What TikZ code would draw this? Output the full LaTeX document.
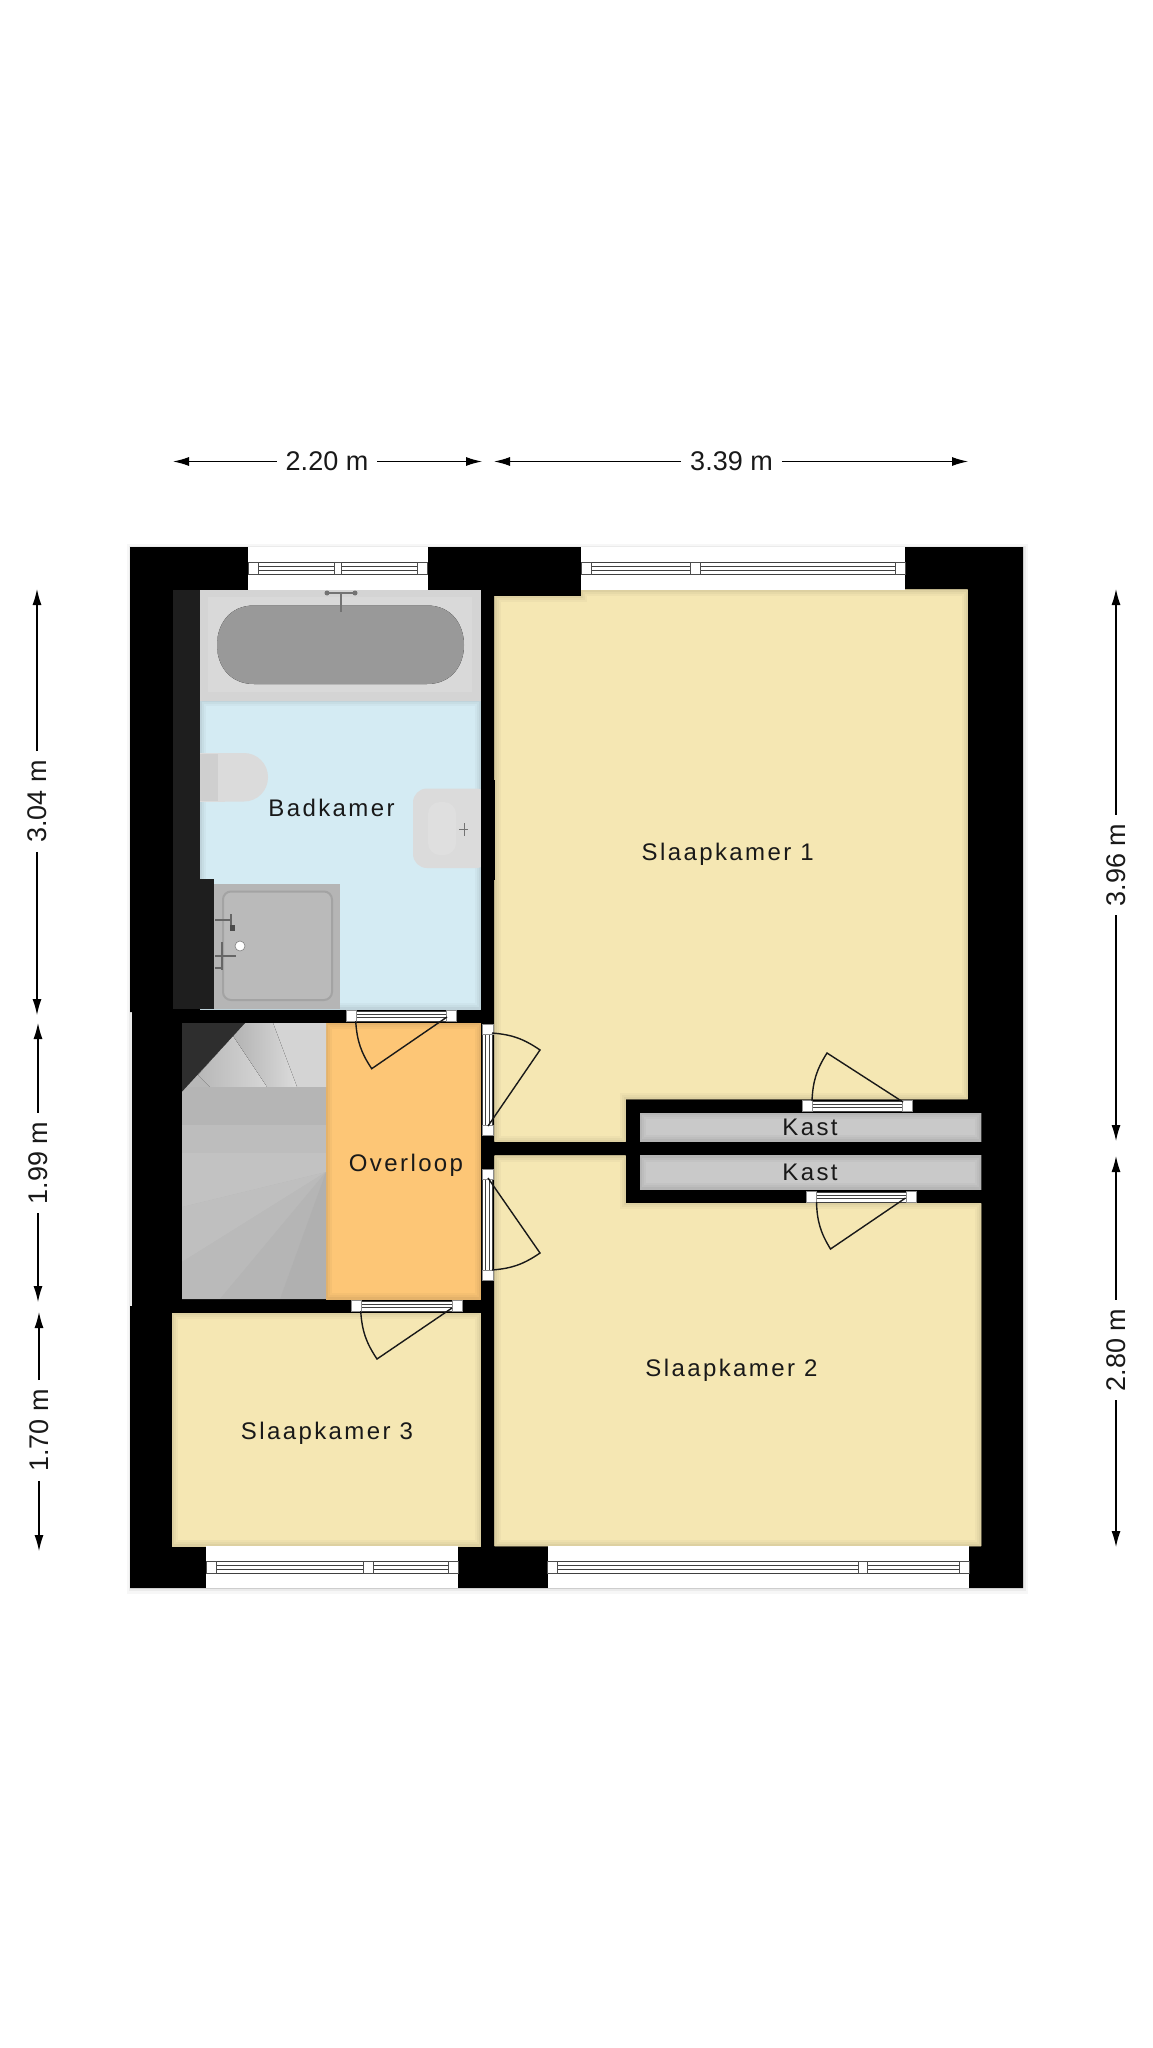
\documentclass[tikz,border=0pt]{standalone}
\usepackage{fontspec}
\setmainfont{Liberation Sans}
\newfontfamily\roomfont{Liberation Sans}[LetterSpace=10]
\usetikzlibrary{arrows.meta}
\definecolor{cream}{HTML}{F5E7B3}
\definecolor{bluefloor}{HTML}{D4EBF3}
\definecolor{landing}{HTML}{FDC676}
\definecolor{closet}{HTML}{C9C9C9}
\definecolor{darkwall}{HTML}{1E1E1E}
\tikzset{
	roomlabel/.style={font=\roomfont\fontsize{12}{14}\selectfont,text=black!90},
	dimlabel/.style={font=\fontsize{13.5}{16}\selectfont,inner sep=4.3pt,text=black!90},
	dimline/.style={line width=.6pt,-{Latex[length=8pt,width=4.5pt]}},
	framebar/.style={line width=.45pt,black!75},
	jamb/.style={fill=white,draw=black!45,line width=.25pt},
	winjamb/.style={fill=white,draw=black!70,line width=.4pt},
	doorleaf/.style={line width=.7pt,black!90},
	fixture/.style={line width=.8pt,black!55}
}
% room floor with a soft edge on the inside
\newcommand{\room}[2]{\begin{scope}\clip #2;\fill[#1] #2;\draw[#1!97!black,line width=6pt] #2;\draw[#1!94!black,line width=4pt] #2;\draw[#1!90!black,line width=2pt] #2;\end{scope}}
% x1, x2, mid1, mid2, top, bottom, centre
\newcommand{\window}[7]{
	\fill[white] (#1,#5) rectangle (#2,#6);
	\foreach \fy in {-6,-2,2,6} \draw[framebar] (#1,{#7+\fy}) -- (#2,{#7+\fy});
	\draw[winjamb] (#1,{#7-6}) rectangle ({#1+10},{#7+6});
	\draw[winjamb] (#3,{#7-6}) rectangle (#4,{#7+6});
	\draw[winjamb] ({#2-10},{#7-6}) rectangle (#2,{#7+6});
}
% door frames: x1, x2, centre
\newcommand{\doorh}[3]{
	\fill[white] (#1,{#3-5}) rectangle (#2,{#3+5});
	\foreach \fy in {-5,-1.7,1.7,5} \draw[framebar] (#1,{#3+\fy}) -- (#2,{#3+\fy});
	\draw[jamb] (#1,{#3-5.5}) rectangle ({#1+10},{#3+5.5});
	\draw[jamb] ({#2-10},{#3-5.5}) rectangle (#2,{#3+5.5});
}
\newcommand{\doorv}[3]{
	\fill[white] ({#3-5},#1) rectangle ({#3+5},#2);
	\foreach \fx in {-5,-1.7,1.7,5} \draw[framebar] ({#3+\fx},#1) -- ({#3+\fx},#2);
	\draw[jamb] ({#3-5.5},#1) rectangle ({#3+5.5},{#1+10});
	\draw[jamb] ({#3-5.5},{#2-10}) rectangle ({#3+5.5},#2);
}
\begin{document}
\begin{tikzpicture}[x=.5pt,y=-.5pt]
	\useasboundingbox[fill=white] (0,0) rectangle (1152,2048);
	% outer shadow and walls
	\fill[black!3] (127,543.5) rectangle (1028,1594);
	\fill[black!8] (128.5,545.5) rectangle (1025.5,1591);
	\fill[black] (130,547) -- (1023,547) -- (1023,1588) -- (130,1588) -- (130,1306) -- (132,1306) -- (132,1012) -- (130,1012) -- cycle;
	% floors
	\room{cream}{(581,589.7) -- (967.7,589.7) -- (967.7,1099) -- (625.7,1099) -- (625.7,1141.7) -- (494.7,1141.7) -- (494.7,596) -- (581,596) -- cycle}
	\room{cream}{(494.7,1155.7) -- (625.7,1155.7) -- (625.7,1203.3) -- (981,1203.3) -- (981,1546) -- (494.7,1546) -- cycle}
	\room{cream}{(172.3,1313) rectangle (480.7,1546)}
	\room{landing}{(326,1023) rectangle (480.7,1299)}
	\room{closet}{(640,1113) rectangle (981,1141)}
	\room{closet}{(640,1155.7) rectangle (981,1189.3)}
	\room{bluefloor}{(200,700) rectangle (480.7,1009)}
	% bath room fittings
	\fill[darkwall] (172.5,589.5) rectangle (200,879);
	\fill[darkwall] (172.5,879) rectangle (214,1009);
	\fill[black!17] (200,589.5) rectangle (481,700.5);
	\fill[black!15] (208,597) rectangle (472,692);
	\fill[left color=black!40,middle color=black!53,right color=black!40] (254,605.5) -- (427,605.5) .. controls (452,605.5) and (464,625) .. (464,645) .. controls (464,665) and (452,684) .. (427,684) -- (254,684) .. controls (229,684) and (217,665) .. (217,645) .. controls (217,625) and (229,605.5) .. (254,605.5) -- cycle;
	\draw[fixture] (325,593) -- (357,593);
	\fill[black!55] (327,593) circle (2.5) (355,593) circle (2.5);
	\draw[fixture,line width=1.2pt] (341,593) -- (341,612);
	\fill[black!14,rounded corners=12pt] (200,753) -- (268,753) -- (268,801.5) -- (200,801.5) -- cycle;
	\fill[black!14] (200,753) rectangle (225,801.5);
	\fill[black!19] (200,754) rectangle (218,801);
	\fill[black!14,rounded corners=7pt] (413,788.5) -- (490,788.5) -- (490,868) -- (413,868) -- cycle;
	\fill[black] (480.7,780) rectangle (494.7,880);
	\fill[black!12.5,rounded corners=6pt] (428,802) rectangle (456,855);
	\draw[fixture,line width=.5pt] (459,829) -- (468,829) (464,823) -- (464,836);
	\fill[black!29] (214,884) rectangle (340,1009);
	\draw[black!36,line width=1pt,rounded corners=4pt,fill=black!27] (223,891.5) rectangle (332,1000);
	\draw[fixture,black!60,line width=1pt] (215,920) -- (232,920) (231,914) -- (231,928) (215,956) -- (236,956) (222,942) -- (222,970) (215,968) -- (222,968);
	\fill[black!70] (230,925) rectangle (235,931);
	\fill[white,draw=black!50,line width=.3pt] (240,946) ellipse (5 and 5);
	% stairs
	\fill[black!28] (182,1023) rectangle (326,1299);
	\fill[black!17] (273,1023) -- (326,1023) -- (326,1087) -- (297,1087) -- cycle;
	\fill[left color=black!30,right color=black!14] (245,1023) -- (273,1023) -- (297,1087) -- (267,1087) -- (233,1036) -- cycle;
	\fill[left color=black!28,right color=black!16] (233,1036) -- (267,1087) -- (210,1087) -- (198,1075) -- cycle;
	\fill[black!29] (182,1087) rectangle (326,1125);
	\fill[black!26] (182,1125) rectangle (326,1153);
	\fill[black!24] (182,1153) rectangle (326,1172);
	\fill[black!24] (182,1172) -- (326,1172) -- (182,1207) -- cycle;
	\fill[black!25] (182,1207) -- (326,1172) -- (182,1262) -- cycle;
	\fill[black!27] (182,1262) -- (326,1172) -- (220,1299) -- (182,1299) -- cycle;
	\fill[black!29] (220,1299) -- (326,1172) -- (280,1299) -- cycle;
	\fill[black!31] (280,1299) -- (326,1172) -- (326,1299) -- cycle;
	\fill[black!82] (182,1023) -- (245,1023) -- (182,1091.7) -- cycle;
	% windows
	\window{248}{427.7}{334}{341}{547}{589.5}{568}
	\window{581}{905}{690}{700}{547}{589.7}{568}
	\window{206}{458.3}{363.5}{373}{1546}{1588}{1567.5}
	\window{547.7}{969}{858.3}{867}{1546}{1588}{1567.5}
	% door frames
	\doorh{346}{456.7}{1016}
	\doorh{351}{462}{1306}
	\doorh{802}{912.5}{1106}
	\doorh{806}{916}{1197}
	\doorv{1024}{1135}{487.5}
	\doorv{1169}{1280}{487.5}
	% door leaves
	\coordinate (d1h) at (447,1017);
	\coordinate (d1t) at (371.7,1068.7);
	\coordinate (d1e) at (355.7,1021);
	\draw[doorleaf] (d1h) -- (d1t) to[bend left=15] (d1e);
	\coordinate (d2h) at (452,1308);
	\coordinate (d2t) at (377,1359);
	\coordinate (d2e) at (360.7,1311);
	\draw[doorleaf] (d2h) -- (d2t) to[bend left=15] (d2e);
	\coordinate (d3h) at (488,1126);
	\coordinate (d3t) at (540,1050);
	\coordinate (d3e) at (492,1033);
	\draw[doorleaf] (d3h) -- (d3t) to[bend right=15] (d3e);
	\coordinate (d4h) at (488,1178);
	\coordinate (d4t) at (540,1253);
	\coordinate (d4e) at (492,1270);
	\draw[doorleaf] (d4h) -- (d4t) to[bend left=15] (d4e);
	\coordinate (d5h) at (903,1102);
	\coordinate (d5t) at (827,1053);
	\coordinate (d5e) at (812,1101);
	\draw[doorleaf] (d5h) -- (d5t) to[bend right=15] (d5e);
	\coordinate (d6h) at (905.5,1198);
	\coordinate (d6t) at (830.5,1249);
	\coordinate (d6e) at (816.5,1202);
	\draw[doorleaf] (d6h) -- (d6t) to[bend left=15] (d6e);
	% room names
	\node[roomlabel] (badkamer) at (331.5,807.5) {Badkamer};
	\node[roomlabel] (slaap1) at (727.7,854) {Slaapkamer 1};
	\node[roomlabel] (overloop) at (406,1165.5) {Overloop};
	\node[roomlabel] (kast1) at (810,1127) {Kast};
	\node[roomlabel] (kast2) at (810,1172.5) {Kast};
	\node[roomlabel] (slaap2) at (731.5,1370.5) {Slaapkamer 2};
	\node[roomlabel] (slaap3) at (327,1433) {Slaapkamer 3};
	% measures
	\node[dimlabel] (m220) at (327,461.5) {2.20 m};
	\coordinate (m220a) at (173,461.5);
	\coordinate (m220b) at (482,461.5);
	\draw[dimline] (m220) -- (m220a);
	\draw[dimline] (m220) -- (m220b);
	\node[dimlabel] (m339) at (731.5,461.5) {3.39 m};
	\coordinate (m339a) at (494,461.5);
	\coordinate (m339b) at (968,461.5);
	\draw[dimline] (m339) -- (m339a);
	\draw[dimline] (m339) -- (m339b);
	\node[dimlabel,rotate=90] (m304) at (37,801.5) {3.04 m};
	\coordinate (m304a) at (37,589);
	\coordinate (m304b) at (37,1015);
	\draw[dimline] (m304) -- (m304a);
	\draw[dimline] (m304) -- (m304b);
	\node[dimlabel,rotate=90] (m199) at (38,1163) {1.99 m};
	\coordinate (m199a) at (38,1023);
	\coordinate (m199b) at (38,1302);
	\draw[dimline] (m199) -- (m199a);
	\draw[dimline] (m199) -- (m199b);
	\node[dimlabel,rotate=90] (m170) at (39,1430.5) {1.70 m};
	\coordinate (m170a) at (39,1312);
	\coordinate (m170b) at (39,1551);
	\draw[dimline] (m170) -- (m170a);
	\draw[dimline] (m170) -- (m170b);
	\node[dimlabel,rotate=90] (m396) at (1116,865) {3.96 m};
	\coordinate (m396a) at (1116,589);
	\coordinate (m396b) at (1116,1141);
	\draw[dimline] (m396) -- (m396a);
	\draw[dimline] (m396) -- (m396b);
	\node[dimlabel,rotate=90] (m280) at (1116,1350) {2.80 m};
	\coordinate (m280a) at (1116,1156);
	\coordinate (m280b) at (1116,1547);
	\draw[dimline] (m280) -- (m280a);
	\draw[dimline] (m280) -- (m280b);
\end{tikzpicture}
\end{document}
